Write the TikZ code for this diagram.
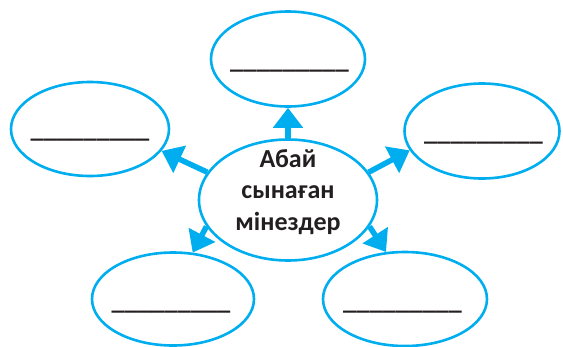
\documentclass[tikz,border=0pt]{standalone}
\usepackage{fontspec}
\setmainfont{Carlito}
\usetikzlibrary{shapes.geometric,arrows.meta}
\definecolor{sky}{HTML}{00AEEF}
\definecolor{ink}{HTML}{231F20}
\tikzset{
  oval/.style={ellipse,draw=sky,line width=2.6pt,inner sep=0pt},
  blank/.style={text=ink,font=\bfseries\fontsize{26.5}{30}\selectfont,inner sep=0pt,anchor=base},
  pointer/.style={draw=sky,line width=5.5pt,-{Triangle[width=29pt,length=20pt]}},
}

\begin{document}
\begin{tikzpicture}[x=1pt,y=-1pt]
\useasboundingbox (0,0) rectangle (563,346);
% ellipses
\node[oval,minimum width=178pt,minimum height=121pt] (mid) at (288,200) {};
\node[oval,minimum width=154pt,minimum height=95pt] (top) at (288,59) {};
\node[oval,minimum width=158pt,minimum height=94pt] (left) at (90,129) {};
\node[oval,minimum width=155pt,minimum height=95pt] (right) at (482,131) {};
\node[oval,minimum width=162pt,minimum height=93pt] (botleft) at (173,299) {};
\node[oval,minimum width=164pt,minimum height=94pt] (botright) at (405,299) {};
% title
\node[align=center,text=ink,inner sep=0pt,font=\bfseries\fontsize{26}{31.5}\selectfont] (title) at (288,192) {Абай\\сынаған\\мінездер};
% blanks
\node[blank] (topb) at (289.5,68.4) {\_\_\_\_\_\_\_\_\_};
\node[blank] (leftb) at (90,137.4) {\_\_\_\_\_\_\_\_\_};
\node[blank] (rightb) at (483.5,140.4) {\_\_\_\_\_\_\_\_\_};
\node[blank] (botleftb) at (171,309.4) {\_\_\_\_\_\_\_\_\_};
\node[blank] (botrightb) at (402.5,309.4) {\_\_\_\_\_\_\_\_\_};
% arrows
\draw[pointer] (mid.90) -- (top.270);
\draw[pointer] (mid.161) -- (left.343);
\draw[pointer] (mid.19) -- (right.195);
\draw[pointer] (mid.198) -- (botleft.67);
\draw[pointer] (mid.342) -- (botright.112);
\end{tikzpicture}
\end{document}
